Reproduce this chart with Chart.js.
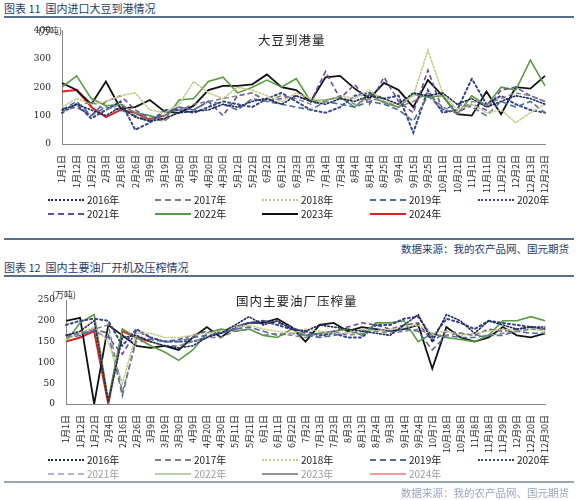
<!DOCTYPE html>
<html><head><meta charset="utf-8">
<script src="https://cdn.jsdelivr.net/npm/chart.js@4.4.1/dist/chart.umd.min.js"></script>
<style>
body{margin:0;width:579px;height:500px;background:#fff;font-family:"Noto Sans CJK SC",sans-serif;position:relative;overflow:hidden}
.abs{position:absolute}
.ttl{left:4px;font-size:11px;color:#1f3a6a}
.rule{left:4px;width:570px;height:0;border-top:2px solid #5a6f8f}
.src{right:10px;font-size:10.5px;color:#1f3a6a}
.ct{font-size:12.5px;color:#222;letter-spacing:1px}
.unit{font-size:9px;color:#333}
.leg{font-size:10px;color:#222;display:flex;align-items:center}
.leg span{display:inline-block;width:36px;margin-right:3px;height:0}
</style></head><body>
<div class="abs ttl" style="top:0">图表 11&nbsp; 国内进口大豆到港情况</div>
<div class="abs rule" style="top:16px"></div>
<div class="abs" style="left:0;top:22px;width:579px;height:174px"><canvas id="c1"></canvas></div>
<div class="abs unit" style="left:38px;top:24px">(万吨)</div>
<div class="abs ct" style="left:258px;top:30px">大豆到港量</div>
<div id="lg1"></div>
<div class="abs rule" style="top:238px"></div>
<div class="abs src" style="top:241px">数据来源：我的农产品网、国元期货</div>

<div class="abs ttl" style="top:259px">图表 12&nbsp; 国内主要油厂开机及压榨情况</div>
<div class="abs rule" style="top:275px"></div>
<div class="abs" style="left:0;top:290px;width:579px;height:166px"><canvas id="c2"></canvas></div>
<div class="abs unit" style="left:52px;top:288px">(万吨)</div>
<div class="abs ct" style="left:236px;top:291px">国内主要油厂压榨量</div>
<div id="lg2"></div>
<div class="abs rule" style="top:481px;border-color:#9aa6b8"></div>
<div class="abs src" style="top:485px;color:#9aa6c0">数据来源：我的农产品网、国元期货</div>

<script>
const years = ["2016年","2017年","2018年","2019年","2020年","2021年","2022年","2023年","2024年"];
const colors = ["#1f2a5a","#808080","#c5cc8a","#4f6d99","#34468a","#6a4aa5","#5a9a42","#111111","#e02020"];
const dashes = [[1.5,2],[5,3],[1.5,2],[6,3],[2,3],[5,3],[],[],[]];
const widths = [1.6,1.4,1.6,1.6,2,1.6,1.6,1.8,2];

const labels1 = ["1月1日","1月12日","1月22日","2月3日","2月16日","2月26日","3月9日","3月19日","3月30日","4月9日","4月20日","4月30日","5月12日","5月22日","6月2日","6月12日","6月23日","7月3日","7月14日","7月24日","8月4日","8月14日","8月25日","9月4日","9月15日","9月25日","10月11日","10月21日","11月1日","11月11日","11月22日","12月2日","12月13日","12月23日"];
const ticks1 = [0,100,200,300,400];
const arrival2016 = [120,140,120,100,130,95,80,90,110,115,120,140,130,150,160,140,170,150,140,160,150,170,160,140,180,170,180,140,160,130,150,170,160,140];
const arrival2017 = [115,130,150,120,140,110,90,80,120,140,150,160,170,180,150,170,160,140,150,170,140,160,150,130,150,180,130,110,150,140,160,180,170,150];
const arrival2018 = [130,160,140,150,170,180,120,110,140,220,180,160,200,190,170,150,180,160,150,170,160,190,150,140,170,330,180,120,140,110,120,75,110,140];
const arrival2019 = [120,150,100,130,120,100,80,110,130,120,150,140,120,160,150,140,130,120,150,140,130,150,140,120,80,170,120,140,130,100,150,130,150,110];
const arrival2020 = [110,140,90,120,150,50,75,120,120,110,130,150,140,130,160,180,150,120,110,130,170,180,160,170,40,190,110,120,230,140,170,140,120,110];
const arrival2021 = [125,130,100,150,170,120,90,100,130,120,150,100,170,180,150,160,170,150,255,160,210,140,235,150,110,260,120,110,140,120,190,200,170,150];
const arrival2022 = [200,240,160,135,140,110,100,85,155,160,220,235,180,200,225,200,230,150,155,165,130,175,145,130,175,165,170,105,170,135,200,190,295,205];
const arrival2023 = [215,190,140,220,125,130,155,115,110,135,190,205,205,210,245,200,190,150,235,240,195,160,215,190,130,225,170,105,100,185,105,200,195,240];
const arrival2024 = [185,190,130,95,120,110,85,100];

const labels2 = ["1月1日","1月12日","1月22日","2月4日","2月16日","2月26日","3月9日","3月19日","3月30日","4月9日","4月20日","4月30日","5月11日","5月21日","6月1日","6月11日","6月22日","7月2日","7月13日","7月23日","8月3日","8月13日","8月24日","9月3日","9月14日","9月24日","10月7日","10月18日","10月28日","11月8日","11月18日","11月29日","12月9日","12月20日","12月30日"];
const ticks2 = [0,50,100,150,200,250];
const crush2016 = [165,175,200,5,160,165,150,140,135,140,160,170,190,210,190,200,180,175,190,185,180,175,170,165,190,215,150,215,200,170,200,190,180,185,185];
const crush2017 = [160,170,180,190,30,150,150,140,140,150,160,160,175,180,165,170,165,160,170,175,165,170,175,170,175,180,165,165,170,165,165,170,175,180,180];
const crush2018 = [155,170,185,150,50,170,170,160,160,165,170,175,185,190,180,175,170,180,175,170,170,180,175,180,185,190,170,175,165,170,175,180,175,180,175];
const crush2019 = [160,165,180,170,20,160,155,150,150,160,165,170,180,185,175,165,170,165,160,165,170,175,180,175,180,175,130,165,160,160,165,165,175,170,170];
const crush2020 = [190,200,205,200,140,180,160,150,150,150,160,175,185,195,200,190,180,175,165,170,160,160,190,190,205,210,160,205,195,180,200,195,190,185,180];
const crush2021 = [165,170,175,160,120,175,160,150,155,165,175,170,180,195,200,195,185,170,160,175,185,195,190,180,190,195,150,175,170,165,180,175,180,185,180];
const crush2022 = [150,195,215,10,180,160,140,125,105,130,170,180,175,180,165,160,180,165,170,175,180,165,195,195,200,150,170,160,155,150,165,200,200,210,200];
const crush2023 = [200,207,0,190,165,140,135,140,130,160,185,160,185,195,195,205,185,150,190,195,175,185,180,175,180,190,85,185,160,150,160,185,165,160,170];
const crush2024 = [150,160,175,0,175,160,150];

function sets(arrs) {
  return arrs.map((d, i) => ({
    label: years[i], data: d, borderColor: colors[i], borderDash: dashes[i],
    borderWidth: widths[i], pointRadius: 0, tension: 0, fill: false,
    borderCapStyle: dashes[i].length && dashes[i][0] < 3 ? "round" : "butt"
  }));
}

function makeChart(id, labels, arrs, ticks, max, padTop, yw) {
  new Chart(document.getElementById(id), {
    type: "line",
    data: { labels: labels, datasets: sets(arrs) },
    options: {
      responsive: true, maintainAspectRatio: false, animation: false,
      layout: { padding: { top: padTop, right: 34, left: 0 } },
      plugins: { legend: { display: false }, tooltip: { enabled: false } },
      scales: {
        x: {
          grid: { display: false, drawTicks: true },
          border: { color: "#888" },
          ticks: { maxRotation: 90, minRotation: 90, autoSkip: false, color: "#222",
            font: { size: 9, family: "Noto Sans CJK SC" } }
        },
        y: {
          min: 0, max: max,
          afterFit: s => { s.width = yw; },
          afterBuildTicks: s => { s.ticks = ticks.map(v => ({ value: v })); },
          grid: { display: false },
          border: { color: "#888" },
          ticks: { color: "#222", font: { size: 9, family: "DejaVu Serif" } }
        }
      }
    }
  });
}

makeChart("c1", labels1, [arrival2016,arrival2017,arrival2018,arrival2019,arrival2020,arrival2021,arrival2022,arrival2023,arrival2024], ticks1, 400, 8, 62);
makeChart("c2", labels2, [crush2016,crush2017,crush2018,crush2019,crush2020,crush2021,crush2022,crush2023,crush2024], ticks2, 250, 10, 66);

function legend(id, top, fade) {
  const el = document.getElementById(id);
  const xs = [48, 155, 262, 370, 478];
  years.forEach((y, i) => {
    const d = document.createElement("div");
    d.className = "abs leg";
    d.style.left = xs[i % 5] + "px";
    d.style.top = (top + Math.floor(i / 5) * 14) + "px";
    const st = dashes[i].length === 0 ? "solid" : (dashes[i][0] < 3 ? "dotted" : "dashed");
    const sw = document.createElement("span");
    sw.style.borderTop = (i >= 6 ? 2.5 : 2) + "px " + st + " " + colors[i];
    d.appendChild(sw);
    d.appendChild(document.createTextNode(y));
    if (fade && i >= 5) d.style.opacity = 0.45;
    el.appendChild(d);
  });
}
legend("lg1", 192, false);
legend("lg2", 452, true);
</script>
</body></html>
